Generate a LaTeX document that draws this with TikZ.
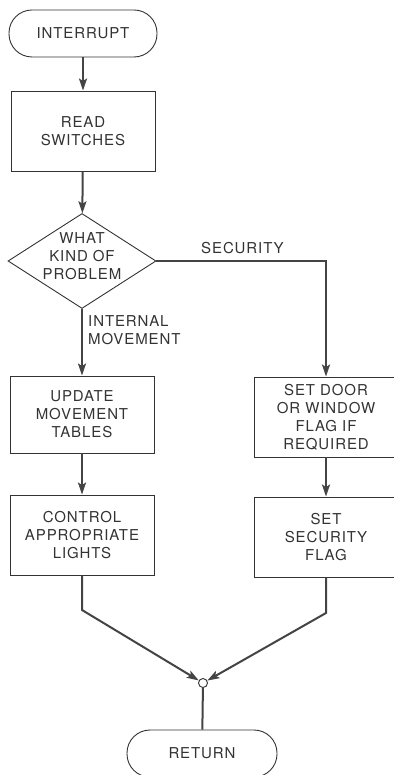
\documentclass[tikz,border=0pt]{standalone}
\usepackage{fontspec}
\setmainfont{TeX Gyre Heros}[LetterSpace=6]
\usetikzlibrary{arrows.meta,shapes.geometric}
\definecolor{ink}{HTML}{333333}
\definecolor{flowc}{HTML}{444444}
\begin{document}
\begin{tikzpicture}[x=1pt,y=-1pt,
  every node/.style={font=\fontsize{15}{18}\selectfont, text=ink},
  procbox/.style={draw=ink, line width=0.9pt, rectangle, minimum width=144pt, minimum height=80pt, inner sep=0pt, align=center},
  termbox/.style={draw=ink, line width=0.9pt, rectangle, rounded corners=23pt, minimum width=148pt, minimum height=47pt, inner sep=0pt, align=center},
  decbox/.style={draw=ink, line width=0.9pt, diamond, minimum width=148pt, minimum height=95pt, inner sep=0pt},
  txt/.style={align=center, inner sep=0pt},
  lbl/.style={align=left, inner sep=0pt},
  flow/.style={draw=flowc, line width=2pt, -{Stealth[length=12pt,width=8pt,inset=2.5pt]}},
  plain/.style={draw=flowc, line width=2pt}
]
\useasboundingbox (0,0) rectangle (393,775);

\node[termbox] (start) at (83,33.5) {INTERRUPT};
\node[procbox] (read) at (83,131) {READ\\SWITCHES};
\node[decbox] (dec) at (82,261) {};
\node[txt] (dectext) at (82,256) {WHAT\\KIND OF\\PROBLEM};
\node[procbox, minimum height=77pt] (upd) at (82,414.5) {UPDATE\\MOVEMENT\\TABLES};
\node[procbox] (ctrl) at (82,535) {CONTROL\\APPROPRIATE\\LIGHTS};
\node[procbox] (door) at (326,417) {SET DOOR\\OR WINDOW\\FLAG IF\\REQUIRED};
\node[procbox] (secf) at (326,537) {SET\\SECURITY\\FLAG};
\node[draw=ink, line width=0.9pt, circle, fill=white, minimum size=9pt, inner sep=0pt] (join) at (203,683) {};
\node[termbox, minimum width=150pt] (ret) at (202,753.5) {RETURN};

\node[lbl, anchor=west] (lsec) at (201,248) {SECURITY};
\node[lbl, anchor=north west] (lint) at (88,315) {INTERNAL\\MOVEMENT};

\coordinate (corner) at (326,261);
\coordinate (lbend) at (82,610);
\coordinate (rbend) at (326,613);

\draw[flow] (start) -- (read);
\draw[flow] (read) -- (dec);
\draw[flow] (dec) -- (upd);
\draw[flow] (upd) -- (ctrl);
\draw[flow] (dec.east) -- (corner) -- (door);
\draw[flow] (door) -- (secf);
\draw[flow] (ctrl) -- (lbend) -- (join);
\draw[flow] (secf) -- (rbend) -- (join);
\draw[plain] (join) -- (ret);
\end{tikzpicture}
\end{document}
